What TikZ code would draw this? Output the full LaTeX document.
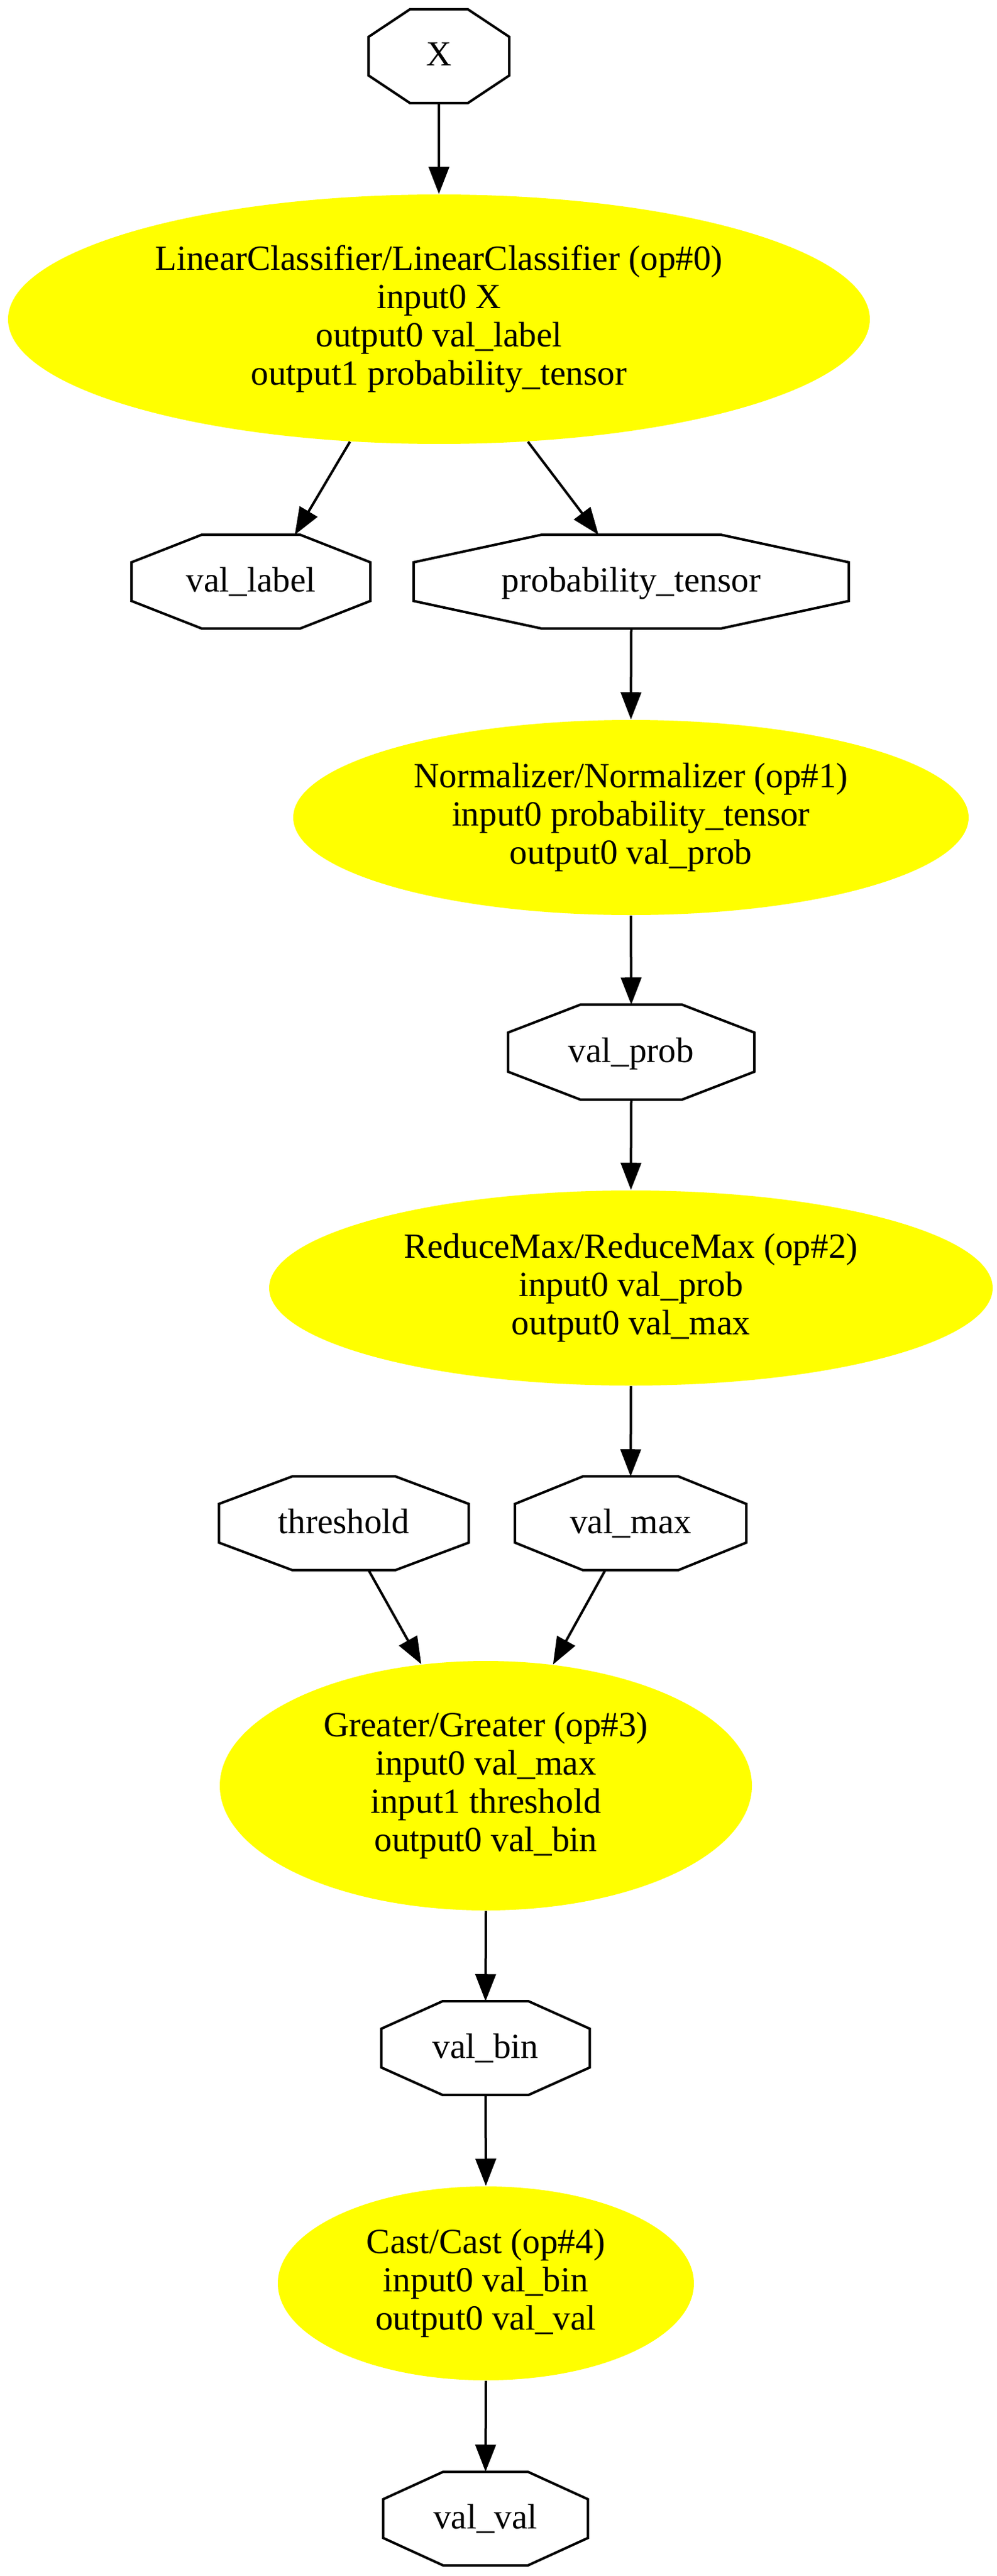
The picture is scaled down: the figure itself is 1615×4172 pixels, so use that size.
\documentclass[tikz,border=0pt]{standalone}
\usepackage{fontspec}
\setmainfont{Liberation Serif}
\usetikzlibrary{shapes.geometric,arrows.meta,calc}
\definecolor{gvyellow}{RGB}{255,255,0}
\begin{document}
\begin{tikzpicture}[x=0.25pt,y=-0.25pt,
  txt/.style={font=\fontsize{14.3pt}{15.5pt}\selectfont},
  op/.style={txt, ellipse, fill=gvyellow, draw=none, inner sep=0pt, align=center},
  var/.style={txt, rectangle, draw=none, inner sep=0pt, minimum height=37.5pt, text height=10pt, text depth=2pt},
  octline/.style={line width=1pt, line join=miter},
  arr/.style={line width=1pt, -{Triangle[length=11pt,width=8.25pt]}}]
\useasboundingbox (0,0) rectangle (1615,4172);
% variable nodes (octagons)
\node[var, minimum width=56.5pt] (X) at (711,91) {X};
\node[var, minimum width=96.25pt] (vl) at (406.5,942) {val\_label};
\node[var, minimum width=175.75pt] (pt) at (1022.5,942) {probability\_tensor};
\node[var, minimum width=99.25pt, minimum height=38pt] (vp) at (1022.5,1704) {val\_prob};
\node[var, minimum width=100.75pt] (th) at (557,2467) {threshold};
\node[var, minimum width=93.25pt] (vm) at (1021.5,2467) {val\_max};
\node[var, minimum width=84pt] (vb) at (786.5,3317) {val\_bin};
\node[var, minimum width=82.5pt] (vv) at (786.5,4079) {val\_val};
% operator nodes (ellipses)
\node[op, minimum width=349pt, minimum height=101pt] (lc) at (711,517)
  {LinearClassifier/LinearClassifier (op\#0)\\input0 X\\output0 val\_label\\output1 probability\_tensor};
\node[op, minimum width=273.5pt, minimum height=79pt] (nm) at (1022,1324)
  {Normalizer/Normalizer (op\#1)\\input0 probability\_tensor\\output0 val\_prob};
\node[op, minimum width=293pt, minimum height=79pt] (rm) at (1022,2086)
  {ReduceMax/ReduceMax (op\#2)\\input0 val\_prob\\output0 val\_max};
\node[op, minimum width=215.5pt, minimum height=101pt] (gr) at (787,2892)
  {Greater/Greater (op\#3)\\input0 val\_max\\input1 threshold\\output0 val\_bin};
\node[op, minimum width=168.5pt, minimum height=78.5pt] (ct) at (787,3698)
  {Cast/Cast (op\#4)\\input0 val\_bin\\output0 val\_val};
% octagon outlines
\foreach \n in {X,vl,pt,vp,th,vm,vb,vv}
  \draw[octline]
    ($(\n.west)!0.414!(\n.north west)$) --
    ($(\n.north)!0.414!(\n.north west)$) --
    ($(\n.north)!0.414!(\n.north east)$) --
    ($(\n.east)!0.414!(\n.north east)$) --
    ($(\n.east)!0.414!(\n.south east)$) --
    ($(\n.south)!0.414!(\n.south east)$) --
    ($(\n.south)!0.414!(\n.south west)$) --
    ($(\n.west)!0.414!(\n.south west)$) -- cycle;
% connectors
\draw[arr] (X.south) -- (lc.north);
\draw[arr] (lc.-126) -- ($(vl.north)+(71,0)$);
\draw[arr] (lc.-54) -- ($(pt.north)+(-53,0)$);
\draw[arr] (pt.south) -- (nm.north);
\draw[arr] (nm.south) -- (vp.north);
\draw[arr] (vp.south) -- (rm.north);
\draw[arr] (rm.south) -- (vm.north);
\draw[arr] ($(th.south)+(40,0)$) -- (gr.118.4);
\draw[arr] ($(vm.south)+(-41,0)$) -- (gr.61.7);
\draw[arr] (gr.south) -- (vb.north);
\draw[arr] (vb.south) -- (ct.north);
\draw[arr] (ct.south) -- (vv.north);
\end{tikzpicture}
\end{document}
